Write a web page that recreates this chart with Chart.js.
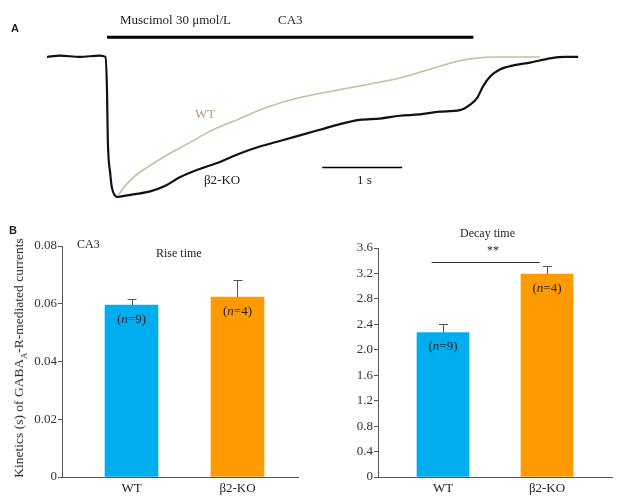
<!DOCTYPE html>
<html>
<head>
<meta charset="utf-8">
<script src="https://cdn.jsdelivr.net/npm/chart.js@4.4.1/dist/chart.umd.min.js"></script>
<style>
  body { margin: 0; background: #fff; width: 619px; height: 503px; position: relative; overflow: hidden;
         font-family: "Liberation Serif", "Times New Roman", serif; color: #222; }
  canvas { position: absolute; }
  .t { position: absolute; white-space: nowrap; font-size: 13px; line-height: 1; }
  .panel { position: absolute; font-family: "Liberation Sans", Arial, sans-serif; font-weight: bold; font-size: 11px; line-height: 1; }
</style>
</head>
<body>
<canvas id="traceChart" width="619" height="215" style="left:0;top:0"></canvas>
<canvas id="riseChart" width="310" height="283" style="left:0;top:220px"></canvas>
<canvas id="decayChart" width="309" height="283" style="left:310px;top:220px"></canvas>

<div class="panel" style="left:11px;top:23px">A</div>
<div class="t" style="left:120px;top:13px">Muscimol 30 μmol/L</div>
<div class="t" style="left:278px;top:13px">CA3</div>
<div class="t" style="left:195px;top:107px;color:#b39b66">WT</div>
<div class="t" style="left:204px;top:173px">β2-KO</div>
<div class="t" style="left:357px;top:173px">1 s</div>

<div class="panel" style="left:9px;top:225px">B</div>
<div class="t" style="left:77px;top:238px;font-size:12px">CA3</div>
<div class="t" style="left:156px;top:247px;font-size:12px">Rise time</div>
<div class="t" style="left:460px;top:227px;font-size:12px">Decay time</div>
<div class="t" style="left:487px;top:244px;font-size:12px">**</div>
<div class="t" style="left:-110px;top:350px;width:260px;text-align:center;font-size:13.5px;color:#222;transform:rotate(-90deg)">Kinetics (s) of GABA<sub style="font-size:8.5px">A</sub>-R-mediated currents</div>

<script>
// Trazas de corriente (normalizadas al pico), tiempo en s
const koTime = [0, 0.16, 0.41, 0.66, 0.73, 0.75, 0.76, 0.79, 0.81, 0.85, 0.89, 0.98, 1.1, 1.29, 1.48, 1.66, 1.91, 2.16, 2.41, 2.66,
                2.91, 3.16, 3.41, 3.66, 3.91, 4.16, 4.41, 4.66, 4.91, 5.16, 5.29, 5.38, 5.45, 5.54, 5.66, 5.83, 6.04, 6.29, 6.48, 6.64];
const koCurrent = [0, 0.01, 0, 0.01, 0, -0.24, -0.59, -0.83, -0.93, -0.99, -1, -0.99, -0.98, -0.96, -0.92, -0.86, -0.8, -0.75, -0.69, -0.64,
                   -0.6, -0.56, -0.52, -0.48, -0.45, -0.44, -0.42, -0.41, -0.39, -0.38, -0.34, -0.29, -0.21, -0.14, -0.09, -0.06, -0.04, -0.01, 0, 0];
const wtTime = [0.89, 0.95, 1.08, 1.25, 1.5, 1.79, 2.04, 2.33, 2.75, 3.16, 3.79, 4.41, 4.83, 5.13, 5.33, 5.66, 6.16];
const wtCurrent = [-0.99, -0.94, -0.86, -0.79, -0.7, -0.61, -0.53, -0.46, -0.36, -0.29, -0.22, -0.15, -0.08, -0.03, -0.01, 0, 0];
const drugTime = [0.75, 5.33];   // aplicación de muscimol
const scaleBarTime = [3.44, 4.44]; // barra de 1 s

// Cinética (barras)
const groups = ['WT', 'β2-KO'];
const riseMean = [0.0595, 0.0623];
const riseSem = [0.0021, 0.0058];
const decayMean = [2.27, 3.19];
const decaySem = [0.135, 0.12];
const groupN = [9, 4];
const riseTicks = [0, 0.02, 0.04, 0.06, 0.08];
const decayTicks = [0, 0.4, 0.8, 1.2, 1.6, 2.0, 2.4, 2.8, 3.2, 3.6];

const BLUE = '#00aeef';
const ORANGE = '#ff9a00';
const SERIF = '"Liberation Serif", "Times New Roman", serif';

function pts(xs, ys) {
  return xs.map((x, i) => ({ x: x, y: ys[i] }));
}

// Panel A
new Chart(document.getElementById('traceChart'), {
  type: 'line',
  data: {
    datasets: [
      { data: pts(wtTime, wtCurrent), borderColor: '#c8bd9c', borderWidth: 1.6, pointRadius: 0, cubicInterpolationMode: 'monotone' },
      { data: pts(koTime, koCurrent), borderColor: '#111', borderWidth: 2.2, pointRadius: 0, cubicInterpolationMode: 'monotone' },
      { data: pts(drugTime, [0.14, 0.14]), borderColor: '#000', borderWidth: 3, pointRadius: 0 },
      { data: pts(scaleBarTime, [-0.79, -0.79]), borderColor: '#000', borderWidth: 1.5, pointRadius: 0 }
    ]
  },
  options: {
    responsive: false,
    animation: false,
    layout: { padding: 0 },
    plugins: { legend: { display: false }, tooltip: { enabled: false } },
    scales: {
      x: { type: 'linear', display: false, min: -0.5875, max: 7.15 },
      y: { type: 'linear', display: false, min: -1.129, max: 0.407 }
    }
  }
});

// Barras de error + etiquetas (n=..)
const errorBars = {
  id: 'errorBars',
  afterDatasetsDraw(chart) {
    const ctx = chart.ctx;
    const yScale = chart.scales.y;
    const ds = chart.data.datasets[0];
    chart.getDatasetMeta(0).data.forEach((bar, j) => {
      const v = ds.data[j].y;
      const top = yScale.getPixelForValue(v + ds.errors[j]);
      ctx.save();
      ctx.strokeStyle = '#555';
      ctx.lineWidth = 1;
      ctx.beginPath();
      ctx.moveTo(Math.round(bar.x) + 0.5, bar.y);
      ctx.lineTo(Math.round(bar.x) + 0.5, top);
      ctx.moveTo(bar.x - 4, Math.round(top) + 0.5);
      ctx.lineTo(bar.x + 5, Math.round(top) + 0.5);
      ctx.stroke();

      // (n=9)
      const parts = [['(', ''], ['n', 'italic '], ['=' + ds.counts[j] + ')', '']];
      let w = 0;
      parts.forEach(p => { ctx.font = p[1] + '13px ' + SERIF; w += ctx.measureText(p[0]).width; });
      let x = bar.x - w / 2;
      const y = bar.y + 14;
      ctx.fillStyle = '#222';
      ctx.textBaseline = 'middle';
      parts.forEach(p => {
        ctx.font = p[1] + '13px ' + SERIF;
        ctx.fillText(p[0], x, y);
        x += ctx.measureText(p[0]).width;
      });
      ctx.restore();
    });

    const sig = chart.options.plugins.errorBars.sig;
    if (sig) {
      const xs = chart.scales.x;
      const py = yScale.getPixelForValue(sig.value);
      ctx.save();
      ctx.strokeStyle = '#333';
      ctx.lineWidth = 1;
      ctx.beginPath();
      ctx.moveTo(xs.getPixelForValue(sig.from), Math.round(py) + 0.5);
      ctx.lineTo(xs.getPixelForValue(sig.to), Math.round(py) + 0.5);
      ctx.stroke();
      ctx.restore();
    }
  }
};

function barChart(id, means, sems, ticks, yMax, decimals, xMin, xMax, yWidth, padTop, padRight, barW, sig) {
  new Chart(document.getElementById(id), {
    type: 'bar',
    data: {
      datasets: [{
        data: pts([1, 2], means),
        errors: sems,
        counts: groupN,
        backgroundColor: [BLUE, ORANGE],
        borderWidth: 0,
        barThickness: barW
      }]
    },
    plugins: [errorBars],
    options: {
      responsive: false,
      animation: false,
      layout: { padding: { top: padTop, right: padRight, left: 0, bottom: 0 } },
      plugins: { legend: { display: false }, tooltip: { enabled: false }, errorBars: { sig: sig } },
      scales: {
        x: {
          type: 'linear', min: xMin, max: xMax, offset: false, bounds: 'data',
          afterBuildTicks: s => { s.ticks = [{ value: 1 }, { value: 2 }]; },
          afterFit: s => { s.height = 26; },
          grid: { display: false, drawTicks: false, offset: false },
          border: { display: true, color: '#555', width: 1 },
          ticks: { padding: 4, color: '#222', font: { family: SERIF, size: 13 }, callback: v => groups[v - 1] }
        },
        y: {
          min: 0, max: yMax,
          afterBuildTicks: s => { s.ticks = ticks.map(v => ({ value: v })); },
          afterFit: s => { s.width = yWidth; },
          grid: { drawOnChartArea: false, drawTicks: true, tickLength: 4, color: '#555' },
          border: { display: true, color: '#555', width: 1 },
          ticks: { padding: 1, color: '#333', font: { family: SERIF, size: 13 },
                   callback: v => v === 0 ? '0' : v.toFixed(decimals) }
        }
      }
    }
  });
}

barChart('riseChart', riseMean, riseSem, riseTicks, 0.08, 2, 0.344, 2.571, 62, 26, 12, 53, null);
barChart('decayChart', decayMean, decaySem, decayTicks, 3.6, 1, 0.375, 2.625, 68, 28, 7, 52,
         { from: 0.89, to: 1.93, value: 3.38 });
</script>
</body>
</html>
